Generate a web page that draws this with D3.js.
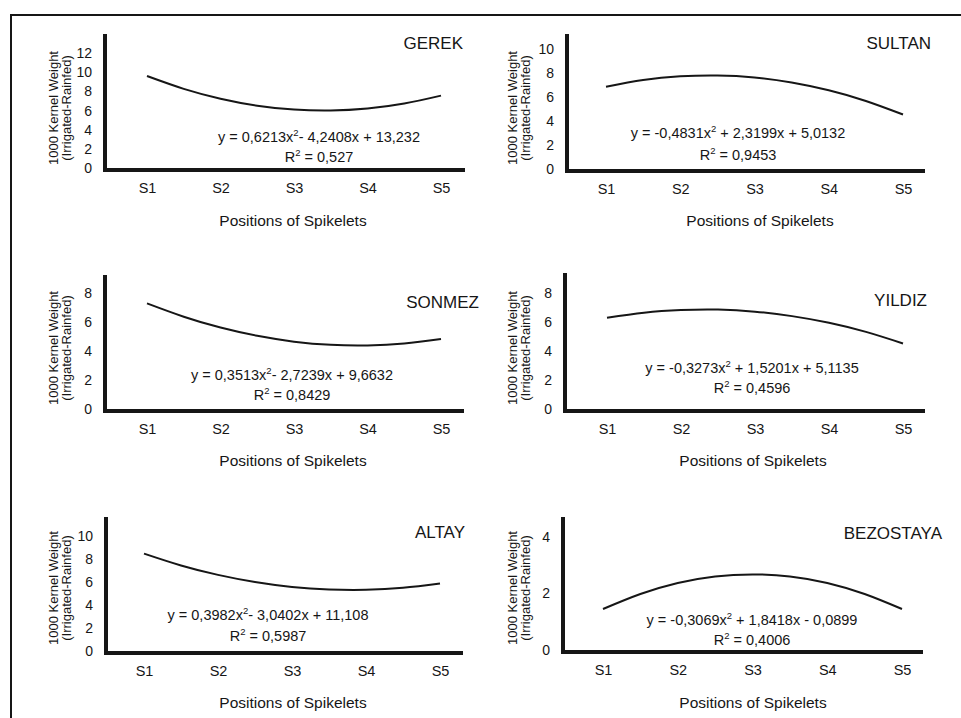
<!DOCTYPE html>
<html>
<head>
<meta charset="utf-8">
<script src="https://cdnjs.cloudflare.com/ajax/libs/d3/7.8.5/d3.min.js"></script>
<style>
  body { margin: 0; background: #fff; }
  svg { display: block; font-family: "Liberation Sans", Arial, sans-serif; }
</style>
</head>
<body>
<div id="chart"></div>
<script>
// spikelet positions and the points
const categories = ["S1", "S2", "S3", "S4", "S5"];
const curvePositions = [1, 1.5, 2, 2.5, 3, 3.5, 4, 4.5, 5];

const gerek     = [9.61, 8.27, 7.24, 6.51, 6.10, 6.00, 6.21, 6.73, 7.56];
const sultan    = [6.85, 7.41, 7.72, 7.79, 7.63, 7.21, 6.56, 5.67, 4.54];
const sonmez    = [7.29, 6.37, 5.62, 5.05, 4.65, 4.43, 4.39, 4.52, 4.83];
const yildiz    = [6.31, 6.66, 6.84, 6.87, 6.73, 6.42, 5.96, 5.33, 4.53];
const altay     = [8.47, 7.44, 6.62, 6.00, 5.57, 5.35, 5.32, 5.49, 5.86];
const bezostaya = [1.45, 1.98, 2.37, 2.60, 2.67, 2.60, 2.37, 1.98, 1.45];

const cultivars = ["GEREK", "SULTAN", "SONMEZ", "YILDIZ", "ALTAY", "BEZOSTAYA"];
const seriesValues = [gerek, sultan, sonmez, yildiz, altay, bezostaya];

const equations = [
  "y = 0,6213x²- 4,2408x + 13,232",
  "y = -0,4831x² + 2,3199x + 5,0132",
  "y = 0,3513x²- 2,7239x + 9,6632",
  "y = -0,3273x² + 1,5201x + 5,1135",
  "y = 0,3982x²- 3,0402x + 11,108",
  "y = -0,3069x² + 1,8418x - 0,0899"
];
const r2Values = ["0,527", "0,9453", "0,8429", "0,4596", "0,5987", "0,4006"];

const yTicks = [
  [0, 2, 4, 6, 8, 10, 12],
  [0, 2, 4, 6, 8, 10],
  [0, 2, 4, 6, 8],
  [0, 2, 4, 6, 8],
  [0, 2, 4, 6, 8, 10],
  [0, 2, 4]
];
const yMaxima = [14, 11.25, 9.25, 9.4, 11.65, 4.7];

// where each small chart sits on the page
const layout = [
  {ax: 105, s1: 147, s5: 441, xEnd: 465, zero: 168, top: 34, tx: 463, ty: 43, ex: 319, ey: 137, ry: 157, lx: 293, row: 0, col: 0},
  {ax: 567, s1: 606, s5: 903, xEnd: 925, zero: 169, top: 34, tx: 931, ty: 43, ex: 738, ey: 133, ry: 155, lx: 760, row: 0, col: 1},
  {ax: 105, s1: 147, s5: 441, xEnd: 464, zero: 409, top: 275, tx: 479, ty: 302, ex: 292, ey: 375, ry: 395, lx: 293, row: 1, col: 0},
  {ax: 565, s1: 607, s5: 903, xEnd: 925, zero: 409, top: 273, tx: 927, ty: 300, ex: 752, ey: 368, ry: 388, lx: 753, row: 1, col: 1},
  {ax: 106, s1: 144, s5: 440, xEnd: 463, zero: 651, top: 517, tx: 465, ty: 532, ex: 268, ey: 615, ry: 636, lx: 293, row: 2, col: 0},
  {ax: 563, s1: 603, s5: 902, xEnd: 923, zero: 650, top: 517, tx: 942, ty: 533, ex: 752, ey: 620, ry: 640, lx: 753, row: 2, col: 1}
];

const W = 961, H = 718;
const ink = "#161616";

const svg = d3.select("#chart")
  .append("svg")
  .attr("width", W)
  .attr("height", H);

svg.append("rect").attr("width", W).attr("height", H).attr("fill", "#fff");

// outer frame (top and left edges visible)
svg.append("path")
  .attr("d", `M11,${H} V15 H${W}`)
  .attr("fill", "none")
  .attr("stroke", ink)
  .attr("stroke-width", 2);

cultivars.forEach((name, i) => {
  const L = layout[i];
  const rowOff = L.row * 240;

  const x = d3.scaleLinear().domain([1, 5]).range([L.s1, L.s5]);
  const y = d3.scaleLinear().domain([0, yMaxima[i]]).range([L.zero, L.top]);

  const g = svg.append("g");

  // y tick labels
  g.append("g")
    .attr("transform", `translate(${L.ax}, 0)`)
    .call(d3.axisLeft(y).tickValues(yTicks[i]).tickFormat(d3.format("d")).tickSize(0).tickPadding(13))
    .call(a => a.select(".domain").remove())
    .selectAll("text")
    .attr("font-family", "Liberation Sans, Arial, sans-serif")
    .attr("font-size", 14)
    .attr("fill", ink);

  // x tick labels
  g.append("g")
    .attr("transform", `translate(0, ${L.zero + 2})`)
    .call(d3.axisBottom(x).tickValues([1, 2, 3, 4, 5]).tickFormat(d => categories[d - 1]).tickSize(0).tickPadding(13))
    .call(a => a.select(".domain").remove())
    .selectAll("text")
    .attr("font-family", "Liberation Sans Narrow, Liberation Sans, sans-serif")
    .attr("font-size", 14.5)
    .attr("fill", ink);

  // heavy axis lines
  g.append("path")
    .attr("d", `M${L.ax},${L.top} V${L.zero + 2} H${L.xEnd}`)
    .attr("fill", "none")
    .attr("stroke", ink)
    .attr("stroke-width", 4)
    .attr("stroke-linejoin", "miter");

  // trend curve
  const line = d3.line()
    .x(d => x(d[0]))
    .y(d => y(d[1]))
    .curve(d3.curveNatural);

  g.append("path")
    .datum(curvePositions.map((p, k) => [p, seriesValues[i][k]]))
    .attr("d", line)
    .attr("fill", "none")
    .attr("stroke", ink)
    .attr("stroke-width", 2);

  // cultivar title
  g.append("text")
    .attr("x", L.tx)
    .attr("y", L.ty)
    .attr("dy", "0.36em")
    .attr("text-anchor", "end")
    .attr("font-size", 17)
    .attr("fill", ink)
    .text(name);

  // equation
  const parts = equations[i].split("²");
  const eq = g.append("text")
    .attr("x", L.ex)
    .attr("y", L.ey)
    .attr("dy", "0.36em")
    .attr("text-anchor", "middle")
    .attr("font-size", 14.5)
    .attr("fill", ink);
  eq.append("tspan").text(parts[0]);
  eq.append("tspan").attr("font-size", 9.5).attr("dy", -6).text("2");
  eq.append("tspan").attr("dy", 6).text(parts[1]);

  const r2 = g.append("text")
    .attr("x", L.ex)
    .attr("y", L.ry)
    .attr("dy", "0.36em")
    .attr("text-anchor", "middle")
    .attr("font-size", 14.5)
    .attr("fill", ink);
  r2.append("tspan").text("R");
  r2.append("tspan").attr("font-size", 9.5).attr("dy", -6).text("2");
  r2.append("tspan").attr("dy", 6).text(" = " + r2Values[i]);

  // y axis title, two lines
  const yTitleX = L.col ? 512 : 53;
  const yTitleY = rowOff + 108;
  const yt = g.append("text")
    .attr("transform", `translate(${yTitleX}, ${yTitleY}) rotate(-90)`)
    .attr("text-anchor", "middle")
    .attr("font-size", 13)
    .attr("fill", ink);
  yt.append("tspan").attr("x", 0).attr("dy", "0.35em").text("1000 Kernel Weight");
  yt.append("tspan").attr("x", 0).attr("dy", "1em").text("(Irrigated-Rainfed)");

  // x axis title
  g.append("text")
    .attr("x", L.lx)
    .attr("y", rowOff + 220 + (L.row === 2 ? 2 : 0))
    .attr("dy", "0.36em")
    .attr("text-anchor", "middle")
    .attr("font-size", 15.5)
    .attr("fill", ink)
    .text("Positions of Spikelets");
});
</script>
</body>
</html>
